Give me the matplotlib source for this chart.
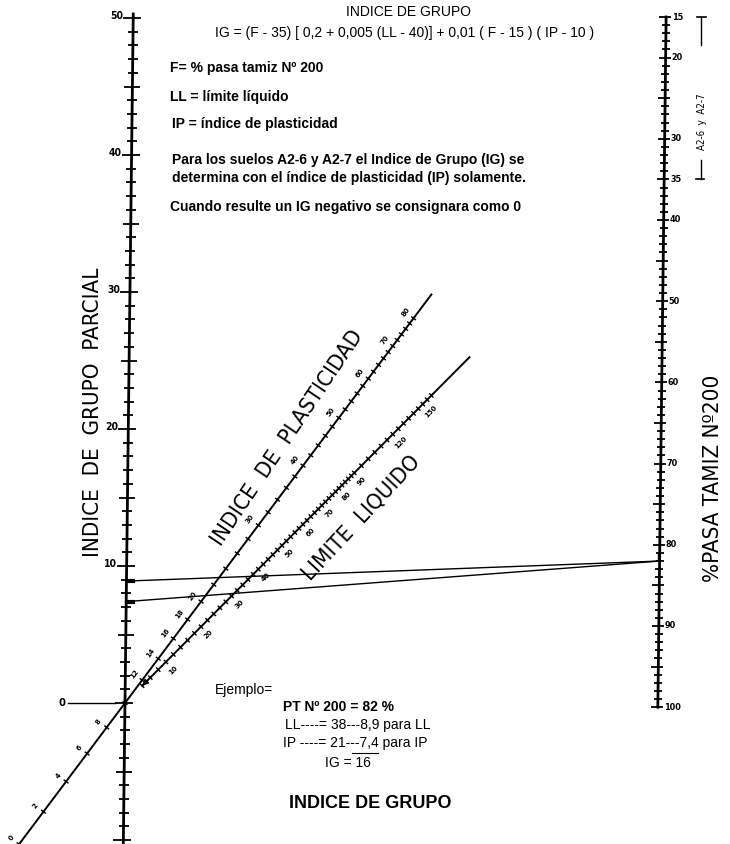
import numpy as np
import matplotlib.pyplot as plt
from matplotlib.collections import LineCollection

# valores de las escalas del nomograma
ig_ticks = np.arange(-10, 51)
ig_labels = [0, 10, 20, 30, 40, 50]
f_ticks = np.arange(15, 101)
f_labels = [15, 20, 30, 35, 40, 50, 60, 70, 80, 90, 100]
ip_ticks = list(range(0, 82, 2))
ip_labels = [0, 2, 4, 6, 8, 12, 14, 16, 18, 20, 30, 40, 50, 60, 70, 80]
ll_ticks = list(range(4, 91, 2)) + list(range(95, 161, 5))
ll_labels = [10, 20, 30, 40, 50, 60, 70, 80, 90, 120, 150]
ip_range = [0, 90]
ll_range = [4, 215]

# ejemplo
ej_F = 82
ej_ig = [8.9, 7.4]

narrow = ['DejaVu Sans']
arial = ['Liberation Sans', 'DejaVu Sans']


# geometria (pixeles de la imagen)
def x_left(y):
    return 125 + 0.012 * (703 - np.asarray(y, float))


def x_right(y):
    return 662 + 0.012 * (360 - np.asarray(y, float))


def y_ig(v):
    return 703 - 13.7 * np.asarray(v, float)


def y_f(v):
    return 17 + 8.12 * (np.asarray(v, float) - 15)


K = 0.61
O = np.array([125.0, 703.0])
ip_end = np.array([665.0, -17.0])
ll_end = np.array([665.0, 161.0])


def diag(g, end):
    g = np.atleast_1d(np.asarray(g, float))
    s = g / (g + K)
    return O + s[:, None] * (end - O)


def p_ip(v):
    return diag(0.01 * (np.asarray(v, float) - 10), ip_end)


def p_ll(v):
    return diag(0.005 * np.asarray(v, float), ll_end)


fig = plt.figure(figsize=(7.3, 8.44), dpi=100)
ax = fig.add_axes([0, 0, 1, 1])
ax.set_xlim(0, 730)
ax.set_ylim(844, 0)
ax.axis('off')

lw = 1.3

# eje izquierdo: indice de grupo parcial
ax.plot([x_left(14), x_left(844)], [14, 844], color='k', lw=2)
segs = []
for v in ig_ticks:
    y = float(y_ig(v))
    x = float(x_left(y))
    if v % 10 == 0:
        segs.append([(x - 10, y), (x + 8, y)])
    elif v % 5 == 0:
        segs.append([(x - 8, y), (x + 8, y)])
    else:
        segs.append([(x - 5, y), (x + 5, y)])
ax.add_collection(LineCollection(segs, colors='k', linewidths=lw))
for v in ig_labels:
    y = float(y_ig(v))
    x = float(x_left(y))
    if v == 0:
        ax.plot([68, x - 10], [y, y], color='k', lw=1)
        ax.text(62, y, '0', ha='center', va='center', fontsize=8,
                family=narrow, fontweight='bold', fontstretch='condensed')
    else:
        ax.text(x - 10, y - 2, str(v), ha='right', va='center', fontsize=7.5,
                family=narrow, fontweight='bold', fontstretch='condensed')

# eje derecho: % pasa tamiz 200
ax.plot([x_right(y_f(15)), x_right(y_f(100))], [y_f(15), y_f(100)],
        color='k', lw=2)
segs = []
for v in f_ticks:
    y = float(y_f(v))
    x = float(x_right(y))
    if v % 5 == 0:
        segs.append([(x - 7, y), (x + 5, y)])
    else:
        segs.append([(x - 4, y), (x + 4, y)])
ax.add_collection(LineCollection(segs, colors='k', linewidths=lw))
for v in f_labels:
    y = float(y_f(v))
    ax.text(float(x_right(y)) + 6, y, str(v), ha='left', va='center',
            fontsize=6.5, family=narrow, fontweight='bold',
            fontstretch='condensed')

# corchete A2-6 y A2-7
yb0, yb1 = float(y_f(15)), float(y_f(35))
ax.plot([697, 706], [yb0, yb0], color='k', lw=1.2)
ax.plot([701, 701], [yb0, 45], color='k', lw=1)
ax.plot([701, 701], [160, yb1], color='k', lw=1)
ax.plot([696, 704], [yb1, yb1], color='k', lw=1.2)
ax.text(702, 122, 'A2-6  y  A2-7', rotation=90, ha='center', va='center',
        fontsize=7, family=narrow, fontstretch='condensed')


# escalas diagonales
def diag_scale(pfun, vrange, ticks, labels, side, lab_off):
    a, b = pfun(vrange[0])[0], pfun(vrange[1])[0]
    ax.plot([a[0], b[0]], [a[1], b[1]], color='k', lw=1.4)
    d = (b - a) / np.hypot(*(b - a))
    n = np.array([-d[1], d[0]]) * side
    ang = np.degrees(np.arctan2(-d[1], d[0]))
    pts = pfun(ticks)
    segs = [[tuple(p - 3 * n), tuple(p + 3 * n)] for p in pts]
    ax.add_collection(LineCollection(segs, colors='k', linewidths=1))
    for v, p in zip(labels, pfun(labels)):
        q = p + lab_off * n
        ax.text(q[0], q[1], str(v), rotation=ang, ha='center', va='center',
                fontsize=5, family=narrow, fontweight='bold')
    return d, ang


d_ip, ang_ip = diag_scale(p_ip, ip_range, ip_ticks, ip_labels, -1, 10)
d_ll, ang_ll = diag_scale(p_ll, ll_range, ll_ticks, ll_labels, -1, -11)

# flecha al inicio de la escala LL
s0 = p_ll(ll_range[0])[0]
ax.annotate('', xy=(s0[0] - 2, s0[1] + 2), xytext=(s0[0] + 8, s0[1] - 8),
            arrowprops=dict(arrowstyle='-|>', color='k', lw=1,
                            mutation_scale=9))

big = dict(fontsize=16, family=narrow, fontstretch='condensed',
           fontweight='light', ha='center', va='center')
ax.text(287, 438, 'INDICE  DE  PLASTICIDAD', rotation=56, **big)
ax.text(361, 518, 'LIMITE  LIQUIDO', rotation=47, **big)

# lineas del ejemplo
yF = float(y_f(ej_F))
xF = float(x_right(yF))
for v in ej_ig:
    y = float(y_ig(v))
    x = float(x_left(y))
    ax.plot([x, xF], [y, yF], color='k', lw=1)
    ax.plot([x + 1, x + 7], [y, y], color='k', lw=3)
ax.plot([xF - 2, xF - 2], [yF, yF - 8], color='k', lw=1)

# titulos de ejes
ax.text(93, 412, 'INDICE  DE  GRUPO  PARCIAL', rotation=90, **big)
ax.text(713, 478, '%PASA TAMIZ Nº200', rotation=90, **big)

# textos
ax.text(408, 12, 'INDICE DE GRUPO', ha='center', va='center', fontsize=10,
        family=arial)
ax.text(405, 33, 'IG = (F - 35) [ 0,2 + 0,005 (LL - 40)] + 0,01 ( F - 15 ) ( IP - 10 )',
        ha='center', va='center', fontsize=10, family=arial)
ax.text(170, 68, 'F= % pasa tamiz Nº 200', ha='left', va='center',
        fontsize=10, family=arial, fontweight='bold')
ax.text(170, 97, 'LL = límite líquido', ha='left', va='center',
        fontsize=10, family=arial, fontweight='bold')
ax.text(172, 124, 'IP = índice de plasticidad', ha='left', va='center',
        fontsize=10, family=arial, fontweight='bold')
ax.text(172, 160, 'Para los suelos A2-6 y A2-7 el Indice de Grupo (IG) se',
        ha='left', va='center', fontsize=10, family=arial, fontweight='bold')
ax.text(172, 178, 'determina con el índice de plasticidad (IP) solamente.',
        ha='left', va='center', fontsize=10, family=arial, fontweight='bold')
ax.text(170, 207, 'Cuando resulte un IG negativo se consignara como 0',
        ha='left', va='center', fontsize=10, family=arial, fontweight='bold')

ax.text(215, 690, 'Ejemplo=', ha='left', va='center', fontsize=10,
        family=arial)
ax.text(283, 707, 'PT Nº 200 = 82 %', ha='left', va='center', fontsize=10,
        family=arial, fontweight='bold')
ax.text(285, 725, 'LL----= 38---8,9 para LL', ha='left', va='center',
        fontsize=10, family=arial)
ax.text(283, 743, 'IP ----= 21---7,4 para IP', ha='left', va='center',
        fontsize=10, family=arial)
ax.plot([352, 378], [753, 753], color='k', lw=0.8)
ax.text(325, 763, 'IG = 16', ha='left', va='center', fontsize=10,
        family=arial)
ax.text(370, 803, 'INDICE DE GRUPO', ha='center', va='center', fontsize=13,
        family=arial, fontweight='bold')

fig.savefig('out.png', dpi=100)
